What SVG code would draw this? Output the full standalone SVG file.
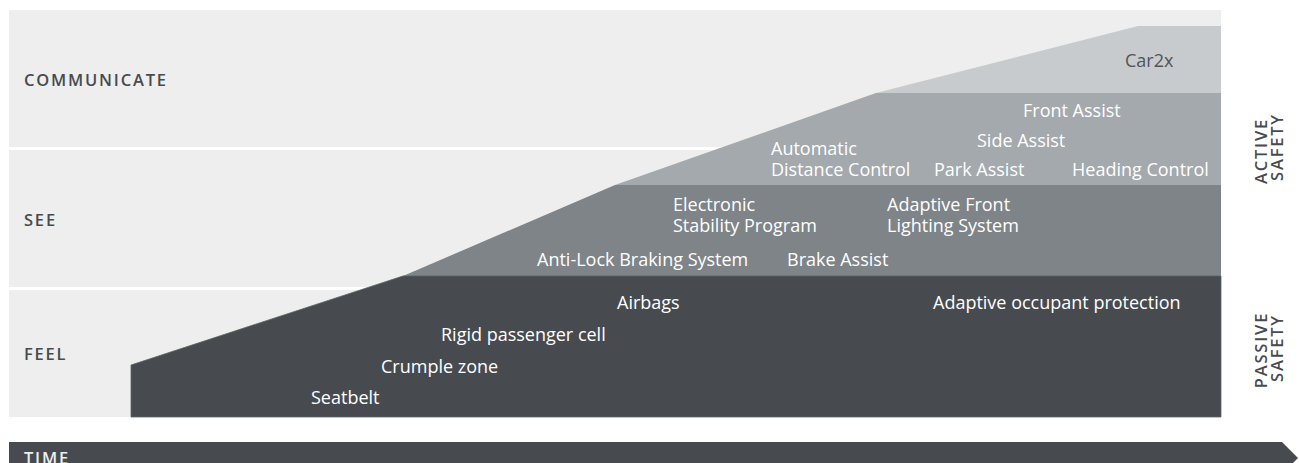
<svg xmlns="http://www.w3.org/2000/svg" width="1299" height="463" viewBox="0 0 1299 463">
  <style>
    .band { fill: #edeeed; }
    .cap { font-family: "Open Sans", "Liberation Sans", sans-serif; font-size: 16.5px; font-weight: 600; letter-spacing: 1.8px; fill: #474b4f; }
    .lbl { font-family: "Open Sans", "Liberation Sans", sans-serif; font-size: 18px; fill: #ffffff; }
    .lbl.dark { fill: #50555a; }
  </style>

  <!-- background bands -->
  <g id="bands">
    <rect class="band" x="9" y="10" width="1212" height="137"/>
    <rect class="band" x="9" y="150" width="1212" height="137"/>
    <rect class="band" x="9" y="290" width="1212" height="127"/>
  </g>

  <!-- stepped safety layers -->
  <g id="layer-car2x"><polygon points="876,93 1138,26 1221,26 1221,93" fill="#c8cbcd"/></g>
  <g id="layer-active"><polygon points="615,185 876,93 1221,93 1221,185" fill="#a3a9ac"/></g>
  <g id="layer-see"><polygon points="403,276 615,185 1221,185 1221,276" fill="#7e8487"/></g>
  <g id="layer-feel"><polygon points="131,365 403,276 1221,276 1221,417 131,417" fill="#474b4f" stroke="#5e6368" stroke-width="0.8"/></g>

  <!-- row labels -->
  <g id="row-labels">
    <text class="cap" x="24" y="85.5">COMMUNICATE</text>
    <text class="cap" x="24" y="225.5">SEE</text>
    <text class="cap" x="24" y="360">FEEL</text>
  </g>

  <!-- side labels -->
  <g id="side-labels">
    <text class="cap" text-anchor="middle" transform="translate(1267,151) rotate(-90)">ACTIVE</text>
    <text class="cap" text-anchor="middle" transform="translate(1283,147) rotate(-90)">SAFETY</text>
    <text class="cap" text-anchor="middle" transform="translate(1267,350) rotate(-90)">PASSIVE</text>
    <text class="cap" text-anchor="middle" transform="translate(1283,348) rotate(-90)">SAFETY</text>
  </g>

  <!-- features -->
  <g id="features">
    <text class="lbl dark" x="1125" y="67">Car2x</text>
    <text class="lbl" x="1023" y="117">Front Assist</text>
    <text class="lbl" x="977" y="147">Side Assist</text>
    <text class="lbl" x="934" y="176">Park Assist</text>
    <text class="lbl" x="1072" y="176">Heading Control</text>
    <text class="lbl" x="771" y="155">Automatic</text>
    <text class="lbl" x="771" y="176">Distance Control</text>
    <text class="lbl" x="673" y="211">Electronic</text>
    <text class="lbl" x="673" y="232">Stability Program</text>
    <text class="lbl" x="887" y="211">Adaptive Front</text>
    <text class="lbl" x="887" y="232">Lighting System</text>
    <text class="lbl" x="537" y="266">Anti-Lock Braking System</text>
    <text class="lbl" x="787" y="266">Brake Assist</text>
    <text class="lbl" x="617" y="309">Airbags</text>
    <text class="lbl" x="933" y="309">Adaptive occupant protection</text>
    <text class="lbl" x="441" y="341">Rigid passenger cell</text>
    <text class="lbl" x="381" y="373">Crumple zone</text>
    <text class="lbl" x="311" y="404">Seatbelt</text>
  </g>

  <!-- time axis -->
  <g id="time-axis">
    <path d="M9,442 H1282 L1298,458 L1282,474 H9 Z" fill="#474b4f"/>
    <text class="cap" x="24" y="464" style="fill:#edeeed">TIME</text>
  </g>
</svg>
